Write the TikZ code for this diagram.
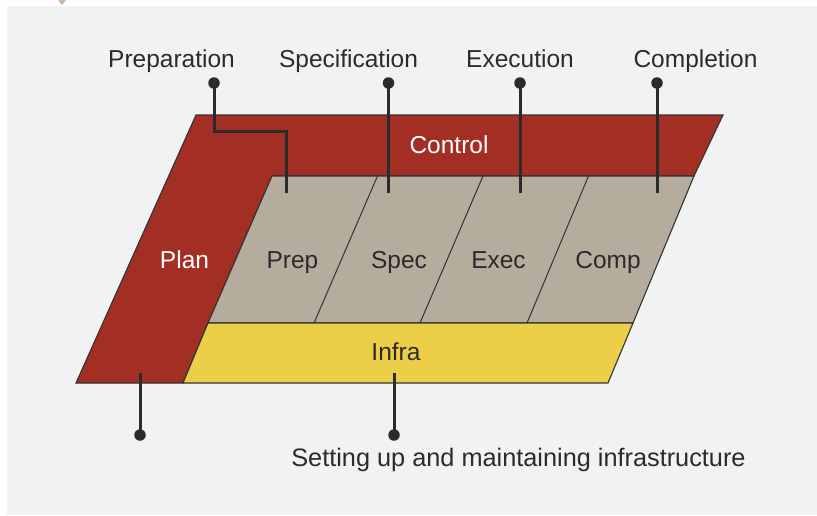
\documentclass[tikz,border=0pt]{standalone}
\usepackage{fontspec}
\setmainfont{Liberation Sans}
\definecolor{bgc}{HTML}{F1F2F2}
\definecolor{redc}{HTML}{A32E23}
\definecolor{grayc}{HTML}{B5AC9E}
\definecolor{yelc}{HTML}{ECCE48}
\definecolor{linec}{HTML}{333333}
\definecolor{txtc}{HTML}{2B2B2B}
\definecolor{tanc}{HTML}{C9B9A2}
\tikzset{
  panel/.style={draw=linec, line width=1.1pt, line join=miter},
  divider/.style={draw=linec, line width=1pt},
  lbl/.style={font=\fontsize{24.5}{28}\selectfont, text=txtc, anchor=base, inner sep=0pt},
  wlbl/.style={lbl, text=white},
  dot/.style={circle, fill=txtc, minimum size=11.5pt, inner sep=0pt},
  leader/.style={draw=txtc, line width=3pt}
}
\begin{document}
\begin{tikzpicture}[x=1pt,y=-1pt]
\useasboundingbox (0,0) rectangle (817,515);
\fill[white] (0,0) rectangle (817,515);
\fill[bgc] (7,6) rectangle (817,515);
\fill[tanc] (58,0) -- (66,0) -- (62,5) -- cycle;

% shapes
\path[panel, fill=redc] (196,115) -- (723,115) -- (694,176) -- (272,176) -- (208,323) -- (183,383) -- (76,383) -- cycle;
\path[panel, fill=grayc] (272,176) -- (694,176) -- (633,323) -- (208,323) -- cycle;
\path[panel, fill=yelc] (208,323) -- (633,323) -- (608,383) -- (183,383) -- cycle;
\draw[divider] (377.5,176) -- (314,323);
\draw[divider] (483,176) -- (420,323);
\draw[divider] (588.5,176) -- (527,323);

% inner labels
\node[wlbl] (control) at (449,153) {Control};
\node[wlbl] (plan) at (184.5,268) {Plan};
\node[lbl] (prep) at (292.5,268) {Prep};
\node[lbl] (spec) at (399,268) {Spec};
\node[lbl] (exec) at (498.5,268) {Exec};
\node[lbl] (comp) at (608,268) {Comp};
\node[lbl] (infra) at (396,360) {Infra};

% top labels
\node[lbl] (lprep) at (171.5,67) {Preparation};
\node[lbl] (lspec) at (348.5,67) {Specification};
\node[lbl] (lexec) at (520,67) {Execution};
\node[lbl] (lcomp) at (695.5,67) {Completion};
\node[lbl, font=\fontsize{25.3}{29}\selectfont] (linfra) at (518.5,466) {Setting up and maintaining infrastructure};

% dots
\node[dot] (dprep) at (214,83) {};
\node[dot] (dspec) at (388.5,83) {};
\node[dot] (dexec) at (520,83) {};
\node[dot] (dcomp) at (657,83) {};
\node[dot] (dplan) at (140,435) {};
\node[dot] (dinfra) at (394,435) {};

% leader ends
\coordinate (eprep) at (286,193);
\coordinate (espec) at (388.5,193);
\coordinate (eexec) at (520,193);
\coordinate (ecomp) at (657,193);
\coordinate (eplan) at (140,373);
\coordinate (einfra) at (394,373);

\draw[leader] (dprep.center) -- ++(0,48) -| (eprep);
\draw[leader] (dspec.center) -- (espec);
\draw[leader] (dexec.center) -- (eexec);
\draw[leader] (dcomp.center) -- (ecomp);
\draw[leader] (dplan.center) -- (eplan);
\draw[leader] (dinfra.center) -- (einfra);
\end{tikzpicture}
\end{document}
